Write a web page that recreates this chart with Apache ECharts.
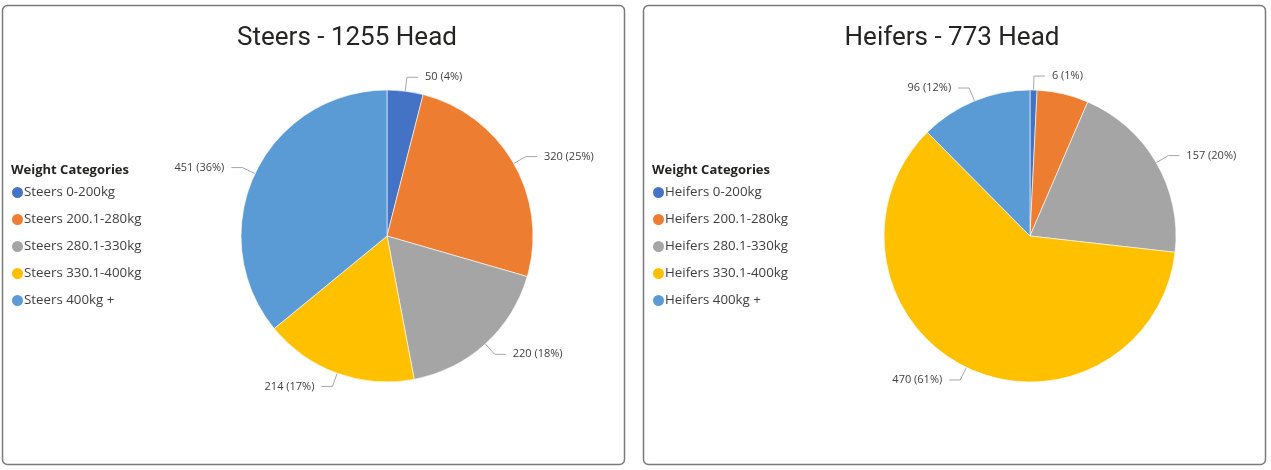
<!DOCTYPE html>
<html><head><meta charset="utf-8">
<script src="https://cdn.jsdelivr.net/npm/echarts@6/dist/echarts.min.js"></script>
<style>html,body{margin:0;padding:0;background:#fff}#c{width:1271px;height:470px}</style>
</head><body><div id="c"></div>
<script>
const colors = ['#4472C4', '#ED7D31', '#A5A5A5', '#FFC000', '#5B9BD5'];
const steerCategories = ['Steers 0-200kg', 'Steers 200.1-280kg', 'Steers 280.1-330kg', 'Steers 330.1-400kg', 'Steers 400kg +'];
const steerValues = [50, 320, 220, 214, 451];
const heiferCategories = ['Heifers 0-200kg', 'Heifers 200.1-280kg', 'Heifers 280.1-330kg', 'Heifers 330.1-400kg', 'Heifers 400kg +'];
const heiferValues = [6, 44, 157, 470, 96];
const heiferHiddenLabels = ['Heifers 200.1-280kg'];
const steerTitle = 'Steers - 1255 Head';
const heiferTitle = 'Heifers - 773 Head';
const legendTitle = 'Weight Categories';

function sum(a){return a.reduce((s,v)=>s+v,0);}
function makeData(cats, vals, hidden){
  return cats.map((c,i)=>{
    const o = {name:c, value:vals[i], itemStyle:{color:colors[i]}};
    if (hidden && hidden.includes(c)) { o.label={show:false}; o.labelLine={show:false}; }
    return o;
  });
}
function pieSeries(cats, vals, cx, hidden){
  const total = sum(vals);
  return {
    type:'pie', radius:146, center:[cx,236], startAngle:90, clockwise:true,
    avoidLabelOverlap:false,
    itemStyle:{borderColor:'#fff', borderWidth:0.6},
    label:{show:true, position:'outside', fontFamily:'Open Sans', fontSize:11, color:'#404040',
      formatter:p=>p.value+' ('+Math.round(p.value/total*100)+'%)', distanceToLabelLine:7},
    labelLine:{show:true, length:14, length2:11, lineStyle:{color:'#A6A6A6', width:1}, smooth:false},
    emphasis:{disabled:true},
    data:makeData(cats, vals, hidden)
  };
}
const chart = echarts.init(document.getElementById('c'), null, {renderer:'canvas'});
const legendCommon = {
  orient:'vertical', icon:'circle', itemWidth:13, itemHeight:13, itemGap:10,
  textStyle:{fontFamily:'Open Sans', fontSize:13.3, color:'#404040', lineHeight:17, padding:[0,0,0,-5]},
  selectedMode:false, top:179
};
const titleStyle = {fontFamily:'Roboto', fontSize:26, fontWeight:'normal', color:'#252423'};
const legTitleStyle = {fontFamily:'Open Sans', fontSize:13, fontWeight:'bold', color:'#252423'};
chart.setOption({
  animation:false,
  graphic:[
    {type:'rect', shape:{x:2.5,y:5.5,width:622,height:459,r:5}, style:{fill:'#fff', stroke:'#7a7a7a', lineWidth:1.5}, z:-10},
    {type:'rect', shape:{x:643.5,y:5.5,width:622,height:459,r:5}, style:{fill:'#fff', stroke:'#7a7a7a', lineWidth:1.5}, z:-10}
  ],
  title:[
    {text:steerTitle, left:342, top:20, textAlign:'center', textStyle:titleStyle},
    {text:heiferTitle, left:947, top:20, textAlign:'center', textStyle:titleStyle},
    {text:legendTitle, left:6, top:159, textStyle:legTitleStyle},
    {text:legendTitle, left:647, top:159, textStyle:legTitleStyle}
  ],
  legend:[
    Object.assign({}, legendCommon, {left:5, data:steerCategories}),
    Object.assign({}, legendCommon, {left:646, data:heiferCategories})
  ],
  series:[
    pieSeries(steerCategories, steerValues, 387),
    pieSeries(heiferCategories, heiferValues, 1030, heiferHiddenLabels)
  ]
});
</script></body></html>
